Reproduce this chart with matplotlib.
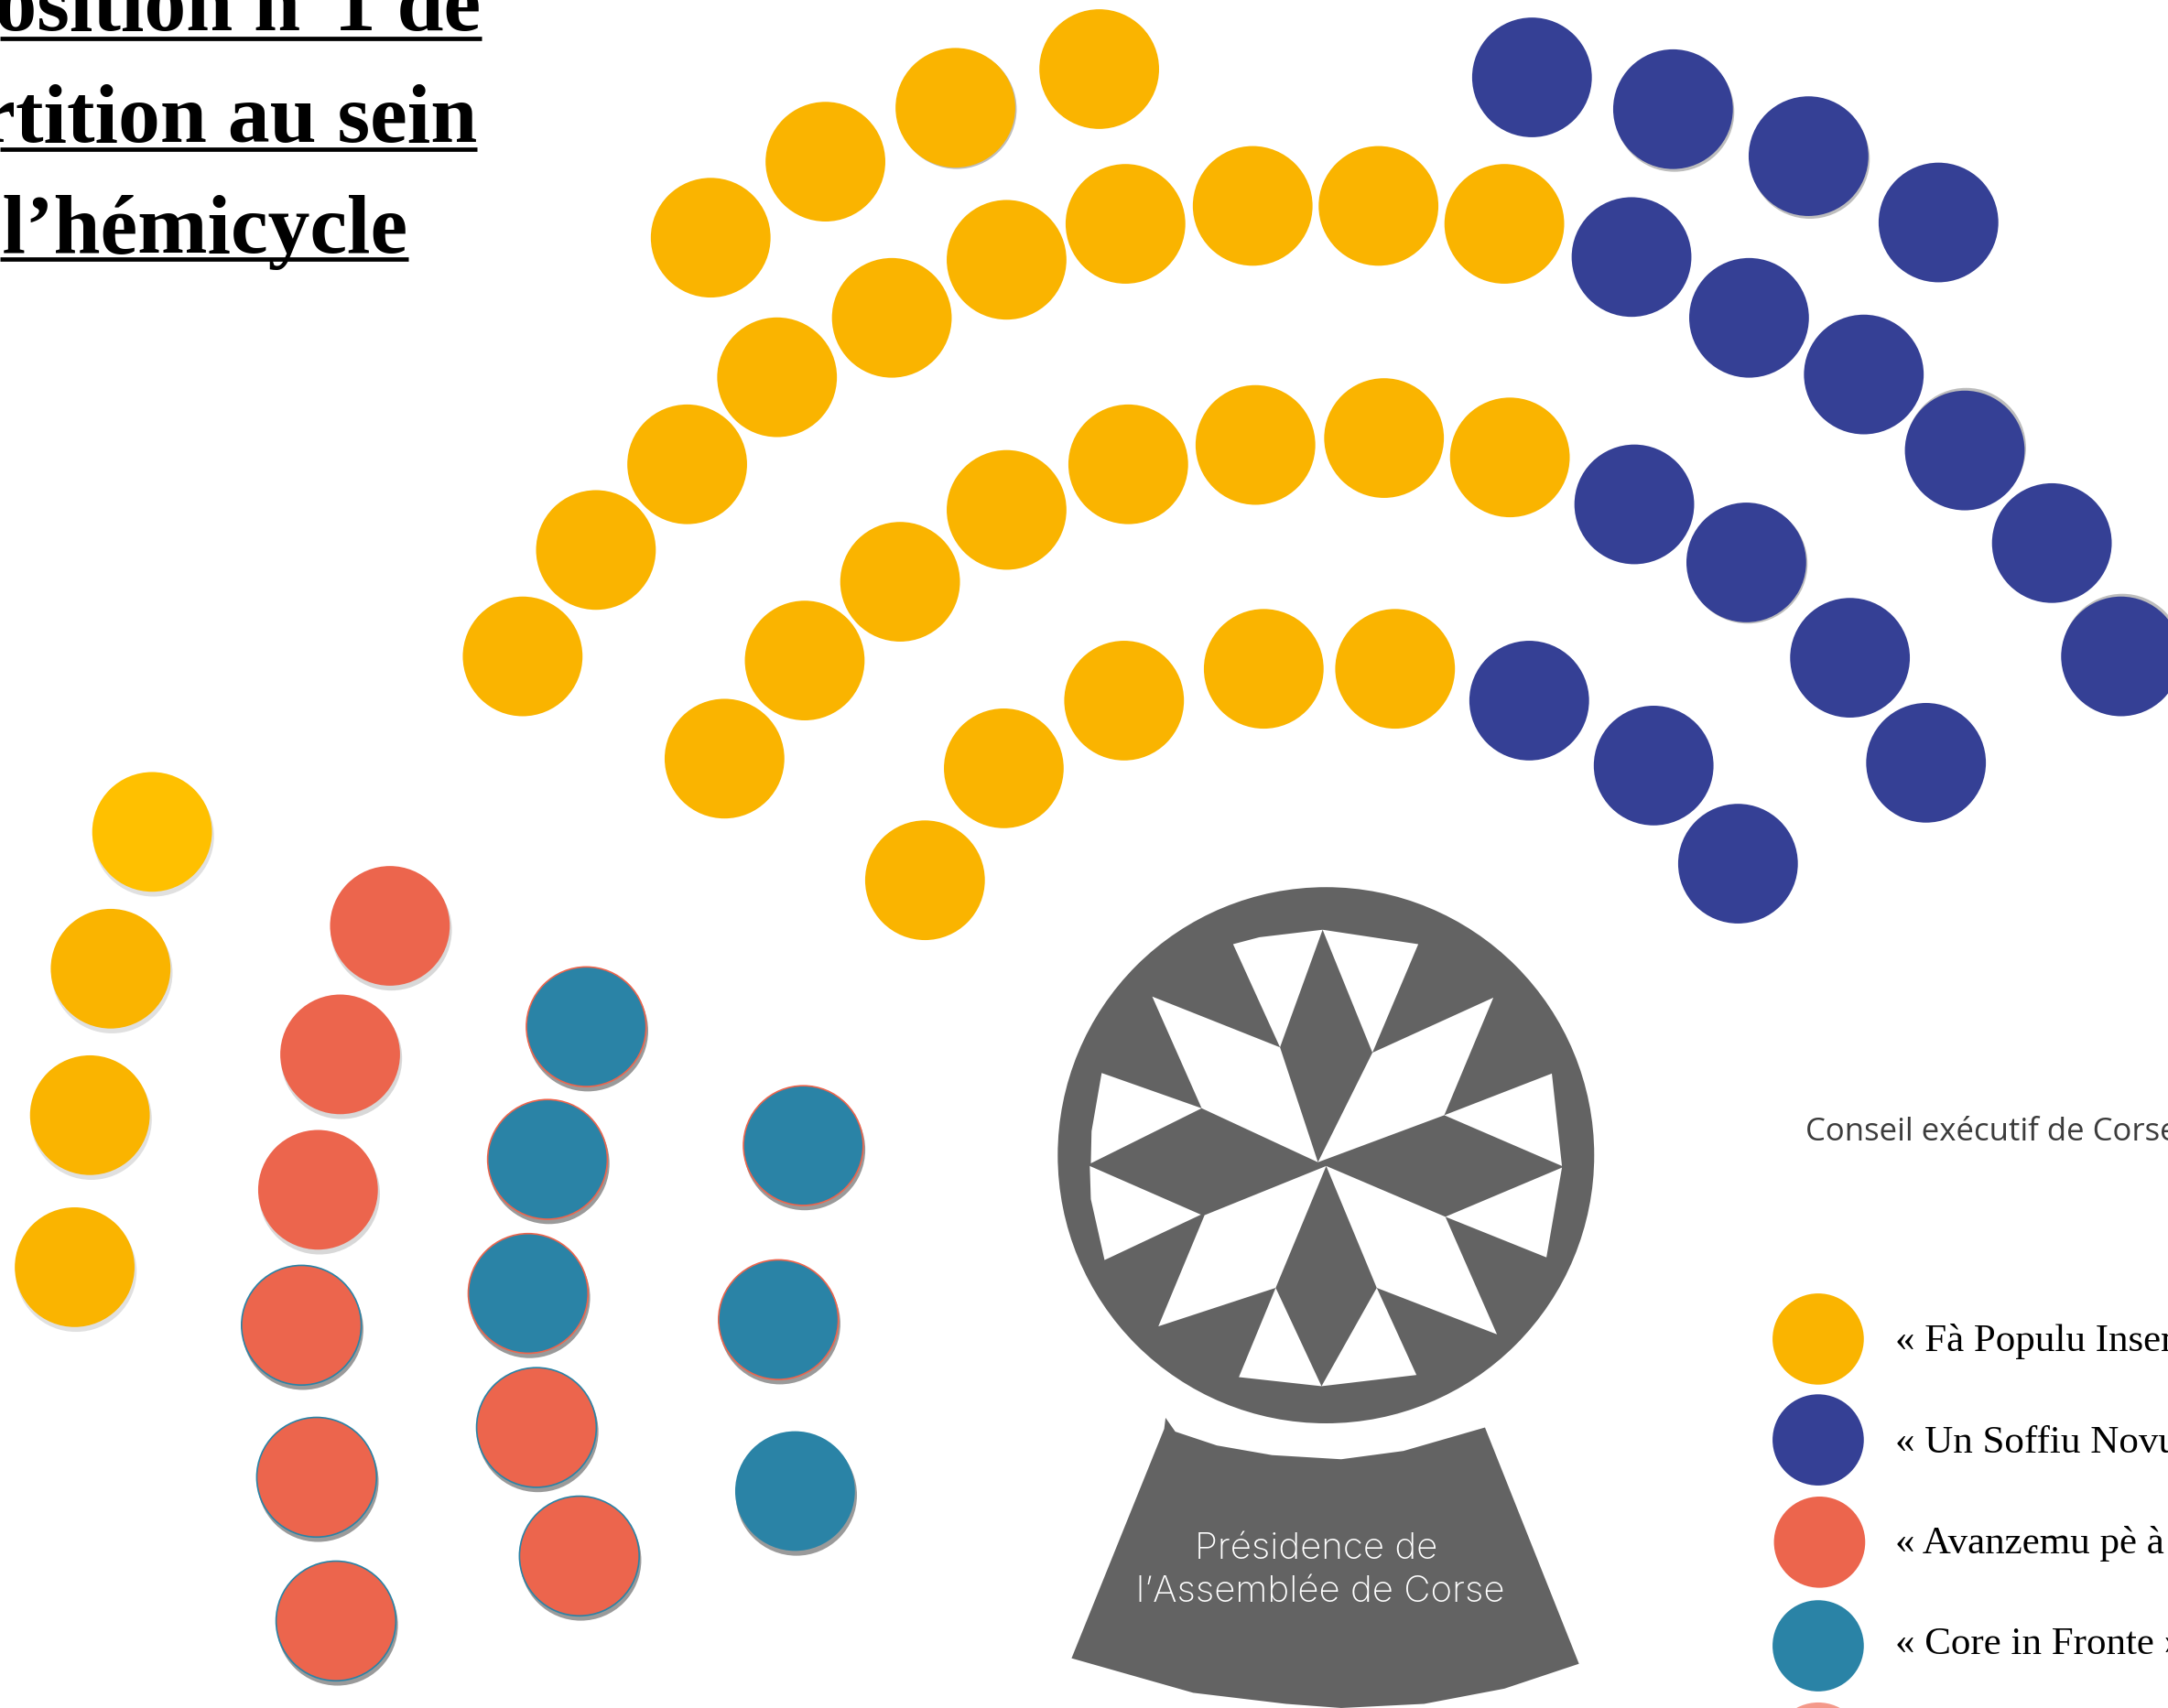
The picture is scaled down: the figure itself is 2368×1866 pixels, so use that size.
import matplotlib
matplotlib.use('Agg')
import matplotlib.pyplot as plt
from matplotlib.patches import Circle, Polygon

# seats, in pixels of the 1568 wide picture
gold_x = [378, 431, 497, 562, 645, 728, 814, 906, 997, 1088, 514, 597, 691, 795,
          524, 582, 651, 728, 816, 908, 1001, 1092, 669, 726, 813, 914, 1009]
gold_y = [475, 398, 336, 273, 230, 188, 162, 149, 149, 162, 172, 117, 78, 50,
          549, 478, 421, 369, 336, 322, 317, 331, 637, 556, 507, 484, 484]
blue_x = [1108, 1210, 1308, 1402, 1180, 1265, 1348, 1421, 1484, 1534,
          1182, 1263, 1338, 1393, 1106, 1196, 1257]
blue_y = [56, 79, 113, 161, 186, 230, 271, 326, 393, 475,
          365, 407, 476, 552, 507, 554, 625]
# a few seats in the arc have a faint grey rim
rim_x = [692, 1211, 1309, 1264, 1535, 1422]
rim_y = [79, 81, 115, 408, 473, 324]

side_gold_x = [80, 65, 54]
side_gold_y = [701, 807, 917]
exec_gold_x = [110]
exec_gold_y = [602]
coral_x = [282, 246, 230]
coral_y = [670, 763, 861]
coral_edge_x = [218, 229, 243, 388, 419]
coral_edge_y = [959, 1069, 1173, 1033, 1126]
teal_x = [424, 396, 382, 581, 563]
teal_y = [743, 839, 936, 829, 955]
teal_plain_x = [575]
teal_plain_y = [1079]

legend_labels = ['« Fà Populu Inseme »', '« Un Soffiu Novu »',
                 '« Avanzemu pè à Corsica »', '« Core in Fronte »']
legend_colors = ['#FAB400', '#354095', '#EC654D', '#2A83A6']
legend_x = [1315, 1315, 1316, 1315]
legend_y = [969, 1042, 1116, 1191]
legend_base = [978, 1051, 1124, 1197]

title_lines = ['Composition n°1 de', 'répartition au sein', 'de l’hémicycle']
title_end = [348, 345, 295]
title_base = [22, 102.5, 183]
title_rule = [28, 108, 187.5]

white_parts = [
    [(547, 140), (620, 127), (795, 113), (677, 333)],
    [(795, 113), (1060, 140), (933, 343)],
    [(323, 238), (677, 333), (782, 548), (460, 447)],
    [(1268, 240), (933, 343), (782, 548), (1132, 460)],
    [(183, 381), (460, 447), (153, 550), (155, 490)],
    [(150, 555), (458, 646), (191, 731), (153, 617)],
    [(1430, 382), (1458, 555), (1132, 460)],
    [(1458, 558), (1415, 726), (1135, 650)],
    [(805, 555), (468, 647), (340, 855), (665, 783)],
    [(805, 555), (1135, 650), (1278, 870), (945, 783)],
    [(665, 783), (792, 967), (563, 950)],
    [(945, 783), (1055, 946), (792, 967)],
]
base_part = [(843, 1026), (842, 1034), (775, 1200), (863, 1225), (930, 1233), (970, 1236),
             (1030, 1233), (1088, 1222), (1142, 1204), (1074, 1033), (1015, 1050),
             (970, 1056), (920, 1053), (880, 1046), (850, 1036)]


def crop_to_page(pts):
    return [(749 + x * 0.2611, 629.1 + y * 0.3868) for x, y in pts]


def draw_seats(ax, xs, ys, color, edge=None, shadow=None, r=43.3):
    for x, y in zip(xs, ys):
        if shadow:
            ax.add_patch(Circle((x + 1, y + 3), r + 0.5, fc=shadow, ec='none', zorder=2))
        ax.add_patch(Circle((x, y), r, fc=color, ec=edge or 'none', lw=1.2, zorder=3))


fig = plt.figure(figsize=(23.68, 18.66), dpi=100)
ax = fig.add_axes([0, 0, 1, 1])
ax.set_xlim(0, 1568)
ax.set_ylim(1236, 0)
ax.axis('off')

for x, y in zip(rim_x, rim_y):
    ax.add_patch(Circle((x, y), 43.3, fc='#BDBDBD', ec='none', zorder=2))
draw_seats(ax, gold_x, gold_y, '#FAB400')
draw_seats(ax, blue_x, blue_y, '#354095')
draw_seats(ax, exec_gold_x, exec_gold_y, '#FFC000', shadow='#E0E0E0')
draw_seats(ax, side_gold_x, side_gold_y, '#FAB400', shadow='#E0E0E0')
draw_seats(ax, coral_x, coral_y, '#EC654D', shadow='#D8D8D8')
draw_seats(ax, coral_edge_x, coral_edge_y, '#EC654D', edge='#2A83A6', shadow='#9A9A9A')
draw_seats(ax, teal_x, teal_y, '#2A83A6', edge='#EC654D', shadow='#9A9A9A')
draw_seats(ax, teal_plain_x, teal_plain_y, '#2A83A6', shadow='#9A9A9A')

# presidency emblem
ax.add_patch(Circle((959, 836), 194, fc='#636363', ec='none', zorder=2))
for part in white_parts:
    ax.add_patch(Polygon(crop_to_page(part), closed=True, fc='white', ec='none', zorder=3))
ax.add_patch(Polygon(base_part, closed=True, fc='#636363', ec='none', zorder=2))
ax.text(952, 1121, 'Présidence de', color='white', family='Inter', weight='light',
        fontsize=29, ha='center', va='center', zorder=4)
ax.text(955, 1152, 'l’Assemblée de Corse', color='white', family='Inter', weight='light',
        fontsize=29, ha='center', va='center', zorder=4)

# legend
ax.text(1306, 825, 'Conseil exécutif de Corse', color='#3C3C3C', family='Open Sans',
        fontsize=25, ha='left', va='baseline')
for x, y, base, c, label in zip(legend_x, legend_y, legend_base, legend_colors, legend_labels):
    ax.add_patch(Circle((x, y), 33, fc=c, ec='none'))
    ax.text(1371, base, label, color='black', family='Liberation Serif',
            fontsize=31, ha='left', va='baseline')
ax.add_patch(Circle((1315, 1265), 33, fc='#F4998A', ec='none'))

# title
for end, base, rule, line in zip(title_end, title_base, title_rule, title_lines):
    ax.text(end, base, line, color='black', family='Liberation Serif', weight='bold',
            fontsize=66, ha='right', va='baseline')
    ax.plot([0, end], [rule, rule], color='black', lw=3.4, solid_capstyle='butt')

fig.savefig('out.png', dpi=100)
